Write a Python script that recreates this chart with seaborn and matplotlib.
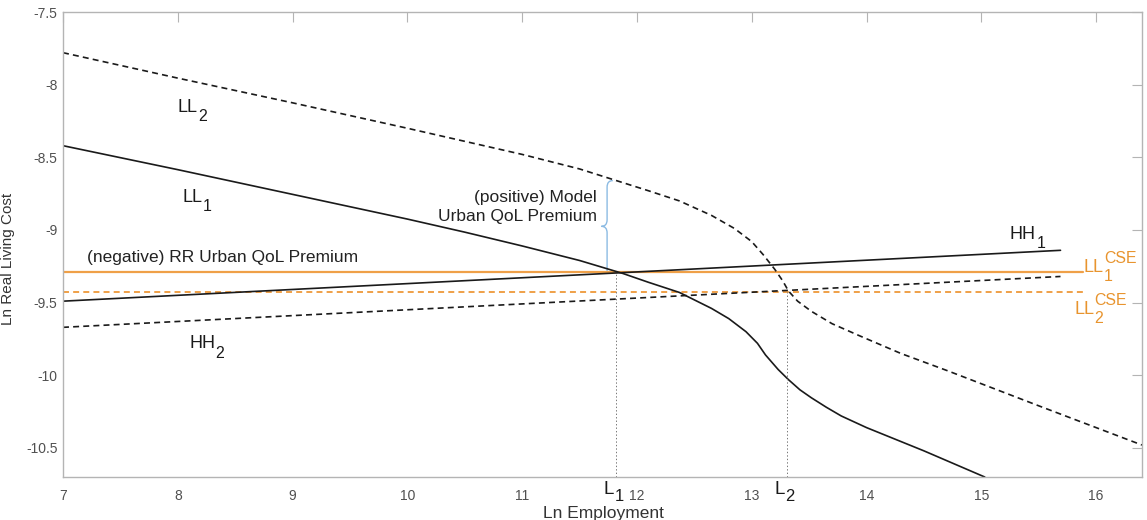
import matplotlib
matplotlib.use("Agg")
import matplotlib.pyplot as plt
import seaborn as sns
from matplotlib.path import Path
from matplotlib.patches import PathPatch
from matplotlib.ticker import FuncFormatter

# LL1 (solid) and LL2 (dashed) locus curves
ll1_x = [7.0, 8.0, 9.0, 10.0, 10.5, 11.0, 11.5, 11.88, 12.1, 12.37, 12.65, 12.8, 12.95, 13.05, 13.12,
         13.23, 13.32, 13.42, 13.52, 13.65, 13.78, 14.0, 14.5, 15.03]
ll1_y = [-8.42, -8.585, -8.755, -8.925, -9.015, -9.11, -9.21, -9.30, -9.36, -9.43, -9.54, -9.61, -9.70, -9.78, -9.86,
         -9.96, -10.03, -10.10, -10.155, -10.22, -10.28, -10.36, -10.52, -10.70]
ll2_x = [7.0, 8.0, 9.0, 10.0, 11.0, 11.5, 11.78, 12.1, 12.37, 12.65, 12.85, 13.0, 13.1, 13.2, 13.27,
         13.32, 13.4, 13.52, 13.7, 13.93, 14.3, 14.71, 15.5, 16.4]
ll2_y = [-7.78, -7.955, -8.125, -8.30, -8.48, -8.58, -8.65, -8.73, -8.80, -8.90, -8.99, -9.08, -9.17, -9.27, -9.35,
         -9.42, -9.49, -9.56, -9.645, -9.725, -9.85, -9.97, -10.21, -10.48]

# HH1 (solid) and HH2 (dashed)
hh1_x = [7.0, 15.69]
hh1_y = [-9.49, -9.14]
hh2_x = [7.0, 15.69]
hh2_y = [-9.67, -9.32]

# CSE levels (orange)
cse_x = [7.0, 15.89]
cse1_y = [-9.29, -9.29]
cse2_y = [-9.43, -9.43]

# equilibrium employment levels
l1_x, l1_y = 11.82, -9.30
l2_x, l2_y = 13.31, -9.43

# brace between LL2 and CSE1 at L1
brace_x = 11.74
brace_top, brace_bot = -8.66, -9.29

x_ticks = [7, 8, 9, 10, 11, 12, 13, 14, 15, 16]
y_ticks = [-10.5, -10, -9.5, -9, -8.5, -8, -7.5]
x_lim = (7, 16.4)
y_lim = (-10.7, -7.5)

sns.set_style("white")
plt.rcParams['font.family'] = ['Liberation Sans', 'DejaVu Sans']
plt.rcParams['axes.unicode_minus'] = False
plt.rcParams['lines.scale_dashes'] = False

black = '#1a1a1a'
orange = '#efa048'
orange_txt = '#e8942e'
gray = '#b4b4b4'
dash = (0, (4.3, 3.0))

fig = plt.figure(figsize=(11.47, 5.2), dpi=100)
ax = fig.add_axes([63 / 1147, 1 - 477 / 520, (1142 - 63) / 1147, (477 - 12) / 520])

sns.lineplot(x=cse_x, y=cse1_y, ax=ax, color=orange, linewidth=1.6)
sns.lineplot(x=cse_x, y=cse2_y, ax=ax, color=orange, linewidth=1.4, linestyle=dash)
sns.lineplot(x=ll1_x, y=ll1_y, ax=ax, color=black, linewidth=1.2)
sns.lineplot(x=ll2_x, y=ll2_y, ax=ax, color=black, linewidth=1.2, linestyle=dash)
sns.lineplot(x=hh1_x, y=hh1_y, ax=ax, color=black, linewidth=1.2)
sns.lineplot(x=hh2_x, y=hh2_y, ax=ax, color=black, linewidth=1.2, linestyle=dash)

# dotted drop lines to the axis
ax.plot([l1_x, l1_x], [y_lim[0], l1_y], color='#777777', linewidth=0.7, linestyle=(0, (1, 1.5)))
ax.plot([l2_x, l2_x], [y_lim[0], l2_y], color='#777777', linewidth=0.7, linestyle=(0, (1, 1.5)))

# curly brace "{"
w = 0.05
mid = (brace_top + brace_bot) / 2
h = 0.045
verts = [
    (brace_x + w, brace_top), (brace_x, brace_top), (brace_x, brace_top - h),
    (brace_x, mid + h),
    (brace_x, mid), (brace_x - w, mid),
    (brace_x, mid), (brace_x, mid - h),
    (brace_x, brace_bot),
]
codes = [Path.MOVETO, Path.CURVE3, Path.CURVE3, Path.LINETO,
         Path.CURVE3, Path.CURVE3, Path.CURVE3, Path.CURVE3, Path.LINETO]
ax.add_patch(PathPatch(Path(verts, codes), facecolor='none', edgecolor='#8cbbe3', linewidth=1.0))


def label(x, y, main, sub=None, sup=None, size=13, color=black, sub_drop=0.45):
    # MATLAB-like sub/superscripts: nearly full size, placed beside the main text
    t = ax.text(x, y, main, fontsize=size, color=color, va='baseline', ha='left', clip_on=False)
    small = size * 0.88
    if sub:
        ax.annotate(sub, xy=(1, 0), xycoords=t, xytext=(0.3, -sub_drop * size), textcoords='offset points',
                    fontsize=small, color=color, va='bottom', ha='left', annotation_clip=False)
    if sup:
        ax.annotate(sup, xy=(1, 0), xycoords=t, xytext=(0.3, 0.55 * size), textcoords='offset points',
                    fontsize=small, color=color, va='bottom', ha='left', annotation_clip=False)
    return t


label(8.0, -8.19, 'LL', '2')
label(8.04, -8.81, 'LL', '1')
label(15.25, -9.06, 'HH', '1')
label(8.10, -9.815, 'HH', '2')
label(15.89, -9.29, 'LL', '1', 'CSE', color=orange_txt)
label(15.81, -9.575, 'LL', '2', 'CSE', color=orange_txt)
label(11.713, -10.815, 'L', '1', size=13.5, sub_drop=0.33)
label(13.20, -10.815, 'L', '2', size=13.5, sub_drop=0.33)

ax.text(7.21, -9.19, '(negative) RR Urban QoL Premium', fontsize=12.5, color='#222222', va='center')
ax.text(11.65, -8.84, '(positive) Model\nUrban QoL Premium', fontsize=12.5, color='#222222',
        va='center', ha='right', multialignment='right', linespacing=1.3)

ax.set_xlim(x_lim)
ax.set_ylim(y_lim)
ax.set_xticks(x_ticks)
ax.set_yticks(y_ticks)
ax.xaxis.set_major_formatter(FuncFormatter(lambda v, p: '%g' % v))
ax.yaxis.set_major_formatter(FuncFormatter(lambda v, p: '%g' % v))
ax.tick_params(direction='in', length=7, width=0.8, color=gray, labelcolor='#505050',
               labelsize=10, top=True, right=True)
ax.tick_params(axis='x', pad=9)
ax.tick_params(axis='y', pad=4)
for s in ax.spines.values():
    s.set_color(gray)
    s.set_linewidth(1.0)

ax.set_xlabel('Ln Employment', fontsize=12.5, color='#333333')
ax.set_ylabel('Ln Real Living Cost', fontsize=11, color='#333333')
ax.xaxis.set_label_coords(0.501, -0.062)
ax.yaxis.set_label_coords(-0.0445, 0.469)

fig.savefig('out.png', dpi=100)
